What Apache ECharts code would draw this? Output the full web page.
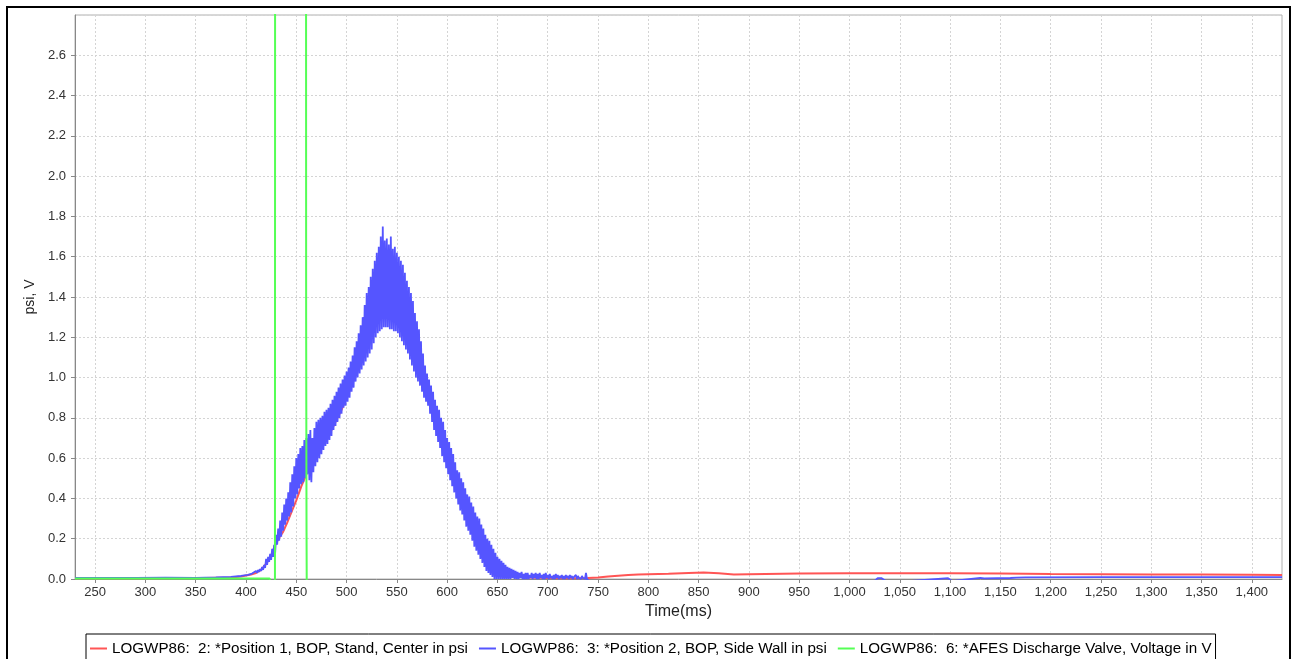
<!DOCTYPE html>
<html><head><meta charset="utf-8">
<script src="https://cdn.jsdelivr.net/npm/echarts@6/dist/echarts.min.js"></script>
<style>html,body{margin:0;padding:0;background:#fff}#c{width:1294px;height:659px}</style>
</head><body><div id="c"></div><script>
// ---- data ----
const seriesNames = [
  'LOGWP86:  2: *Position 1, BOP, Stand, Center in psi',
  'LOGWP86:  3: *Position 2, BOP, Side Wall in psi',
  'LOGWP86:  6: *AFES Discharge Valve, Voltage in V'
];
const xTicks = [250,300,350,400,450,500,550,600,650,700,750,800,850,900,950,1000,1050,1100,1150,1200,1250,1300,1350,1400];

// Position 1 (red)
const redTime = [230,300,360,385,395,405,410,415,420,425,429,433,437,441,445,450,455,460,465,470,475,480,485,490,495,500,505,510,515,520,525,530,535,540,545,550,555,560,565,570,575,580,585,590,595,600,605,610,615,620,625,630,635,640,645,650,655,660,670,680,700,720,740,750,760,770,780,790,800,820,840,855,870,885,900,950,1000,1050,1100,1150,1200,1250,1300,1350,1400,1430];
const redValue = [0.004,0.004,0.005,0.008,0.012,0.022,0.03,0.045,0.075,0.115,0.17,0.205,0.235,0.28,0.33,0.39,0.46,0.52,0.565,0.61,0.65,0.695,0.74,0.79,0.84,0.90,0.96,1.03,1.10,1.17,1.23,1.28,1.32,1.335,1.33,1.30,1.26,1.20,1.14,1.07,1.00,0.93,0.85,0.77,0.69,0.61,0.53,0.46,0.39,0.32,0.26,0.20,0.15,0.105,0.07,0.05,0.035,0.022,0.012,0.008,0.005,0.004,0.005,0.008,0.012,0.016,0.02,0.022,0.024,0.026,0.03,0.032,0.028,0.022,0.024,0.027,0.028,0.028,0.028,0.027,0.025,0.024,0.022,0.022,0.021,0.02];

// Position 2 (blue): quiet parts
const blueQuietBeforeTime = [230,260,290,320,350,370,385,395,402,406];
const blueQuietBeforeValue = [0.005,0.006,0.005,0.007,0.006,0.008,0.011,0.015,0.02,0.027];
const blueQuietAfterTime = [741,1025,1028,1032,1036,1060,1098,1102,1130,1134,1160,1166,1175,1250,1350,1430];
const blueQuietAfterValue = [-0.01,-0.01,0.004,0.004,-0.01,-0.01,0.004,-0.01,0.006,0.003,0.005,0.007,0.008,0.009,0.009,0.009];
// Position 2 (blue): noisy part, one reading per ms starting at 410 ms
const blueNoiseStart = 410;
const blueNoiseValue = [
0.040,0.030,0.045,0.035,0.050,0.040,0.060,0.045,0.070,0.055,
0.100,0.070,0.110,0.085,0.125,0.095,0.150,0.110,0.170,0.130,
0.220,0.170,0.250,0.190,0.290,0.210,0.330,0.240,0.370,0.270,
0.400,0.290,0.430,0.310,0.480,0.330,0.520,0.360,0.560,0.400,
0.600,0.420,0.620,0.450,0.650,0.470,0.660,0.480,0.690,0.500,
0.700,0.520,0.720,0.490,0.740,0.480,0.700,0.530,0.750,0.560,
0.780,0.580,0.790,0.600,0.800,0.620,0.810,0.640,0.830,0.660,
0.840,0.670,0.850,0.690,0.870,0.710,0.890,0.740,0.910,0.760,
0.930,0.780,0.950,0.800,0.970,0.820,0.990,0.850,1.010,0.860,
1.030,0.880,1.050,0.900,1.080,0.930,1.110,0.950,1.150,0.980,
1.180,1.000,1.220,1.020,1.260,1.040,1.300,1.060,1.360,1.080,
1.420,1.100,1.450,1.120,1.500,1.140,1.540,1.170,1.580,1.200,
1.620,1.220,1.650,1.230,1.700,1.240,1.750,1.250,1.680,1.250,
1.690,1.250,1.660,1.240,1.700,1.240,1.640,1.230,1.650,1.230,
1.620,1.220,1.600,1.200,1.580,1.180,1.560,1.160,1.520,1.140,
1.480,1.120,1.450,1.090,1.420,1.060,1.380,1.030,1.320,1.000,
1.280,0.980,1.240,0.960,1.180,0.930,1.120,0.900,1.060,0.880,
1.020,0.860,0.990,0.820,0.960,0.780,0.930,0.740,0.890,0.710,
0.860,0.680,0.840,0.650,0.800,0.610,0.780,0.580,0.740,0.550,
0.700,0.520,0.680,0.490,0.650,0.460,0.620,0.430,0.580,0.400,
0.540,0.370,0.530,0.340,0.500,0.320,0.480,0.290,0.450,0.260,
0.420,0.240,0.410,0.220,0.380,0.190,0.360,0.160,0.330,0.140,
0.310,0.120,0.300,0.100,0.270,0.080,0.250,0.060,0.220,0.040,
0.200,0.030,0.190,0.020,0.170,0.010,0.150,0.000,0.130,0.000,
0.110,0.000,0.100,0.000,0.090,0.000,0.080,0.000,0.070,0.000,
0.060,0.000,0.055,0.000,0.050,0.005,0.045,0.000,0.040,0.000,
0.035,0.000,0.030,0.005,0.035,0.000,0.025,0.000,0.030,0.000,
0.030,0.000,0.020,0.005,0.030,0.000,0.025,0.005,0.030,0.000,
0.025,0.000,0.030,0.005,0.020,0.000,0.025,0.000,0.030,0.005,
0.020,0.000,0.025,0.005,0.015,0.000,0.020,0.000,0.025,0.005,
0.020,0.000,0.015,0.005,0.020,0.000,0.015,0.000,0.020,0.005,
0.015,0.000,0.020,0.005,0.015,0.000,0.010,0.005,0.020,0.000,
0.015,0.005,0.010,0.000,0.015,0.005,0.010,0.000,0.030,0.000
];

// AFES valve voltage (green)
const greenTime = [230,423.5,424,428.8,429,459.6,459.8,460.2,460.4,1430];
const greenValue = [0.003,0.003,-0.01,-0.01,5,5,1.3,0.23,-0.03,-0.03];

// ---- build ----
const pairs = (t, v) => t.map((x, i) => [x, v[i]]);
const redData = pairs(redTime, redValue);
const blueData = pairs(blueQuietBeforeTime, blueQuietBeforeValue)
  .concat(blueNoiseValue.map((v, i) => [blueNoiseStart + i, v]))
  .concat(pairs(blueQuietAfterTime, blueQuietAfterValue));
const greenData = pairs(greenTime, greenValue);

const FONT = 'Liberation Sans, Arial, sans-serif';
const colors = ['#ff5555', '#5555ff', '#55ff55'];
const chart = echarts.init(document.getElementById('c'), null, {renderer: 'canvas'});
chart.setOption({
  animation: false,
  backgroundColor: '#fff',
  color: colors,
  textStyle: {fontFamily: FONT},
  grid: {left: 75, right: 12, top: 15, bottom: 80, show: true, borderColor: '#b0b0b0', borderWidth: 1, backgroundColor: '#fff'},
  graphic: [{type: 'rect', shape: {x: 7, y: 7, width: 1283, height: 700}, style: {fill: 'none', stroke: '#000', lineWidth: 2}, z: 100}],
  legend: {
    left: 86, top: 634, orient: 'horizontal',
    icon: 'rect', itemWidth: 17, itemHeight: 2, itemGap: 11,
    padding: [7, 4, 10, 4],
    borderColor: '#000', borderWidth: 1,
    textStyle: {fontFamily: FONT, fontSize: 15.2, color: '#000'},
    data: seriesNames
  },
  xAxis: {
    type: 'value', min: 230, max: 1430,
    name: 'Time(ms)', nameLocation: 'middle', nameGap: 25,
    nameTextStyle: {fontFamily: FONT, fontSize: 16, color: '#222'},
    axisLine: {show: true, onZero: false, lineStyle: {color: '#888'}},
    axisTick: {show: true, length: 4, customValues: xTicks, lineStyle: {color: '#888'}},
    axisLabel: {customValues: xTicks, margin: 7, fontFamily: FONT, fontSize: 13, color: '#333',
      formatter: v => Number(v).toLocaleString('en-US')},
    splitLine: {show: true, lineStyle: {color: '#d4d4d4', type: [2, 2], width: 1}}
  },
  yAxis: {
    type: 'value', min: 0, max: 2.8, interval: 0.2,
    name: 'psi, V', nameLocation: 'middle', nameGap: 38,
    nameTextStyle: {fontFamily: FONT, fontSize: 14, color: '#222'},
    axisLine: {show: true, lineStyle: {color: '#888'}},
    axisTick: {show: true, length: 4, lineStyle: {color: '#888'}},
    axisLabel: {margin: 9, fontFamily: FONT, fontSize: 13, color: '#333', showMaxLabel: false,
      formatter: v => Number(v).toFixed(1)},
    splitLine: {show: true, lineStyle: {color: '#d4d4d4', type: [2, 2], width: 1}}
  },
  series: [
    {name: seriesNames[0], type: 'line', data: redData, showSymbol: false, symbol: 'none', clip: true,
      lineStyle: {color: colors[0], width: 2}, itemStyle: {color: colors[0]}, z: 2},
    {name: seriesNames[1], type: 'line', data: blueData, showSymbol: false, symbol: 'none', clip: true,
      lineStyle: {color: colors[1], width: 1.8}, itemStyle: {color: colors[1]}, z: 3},
    {name: seriesNames[2], type: 'line', data: greenData, showSymbol: false, symbol: 'none', clip: true,
      lineStyle: {color: colors[2], width: 2}, itemStyle: {color: colors[2]}, z: 4}
  ]
});
</script></body></html>
